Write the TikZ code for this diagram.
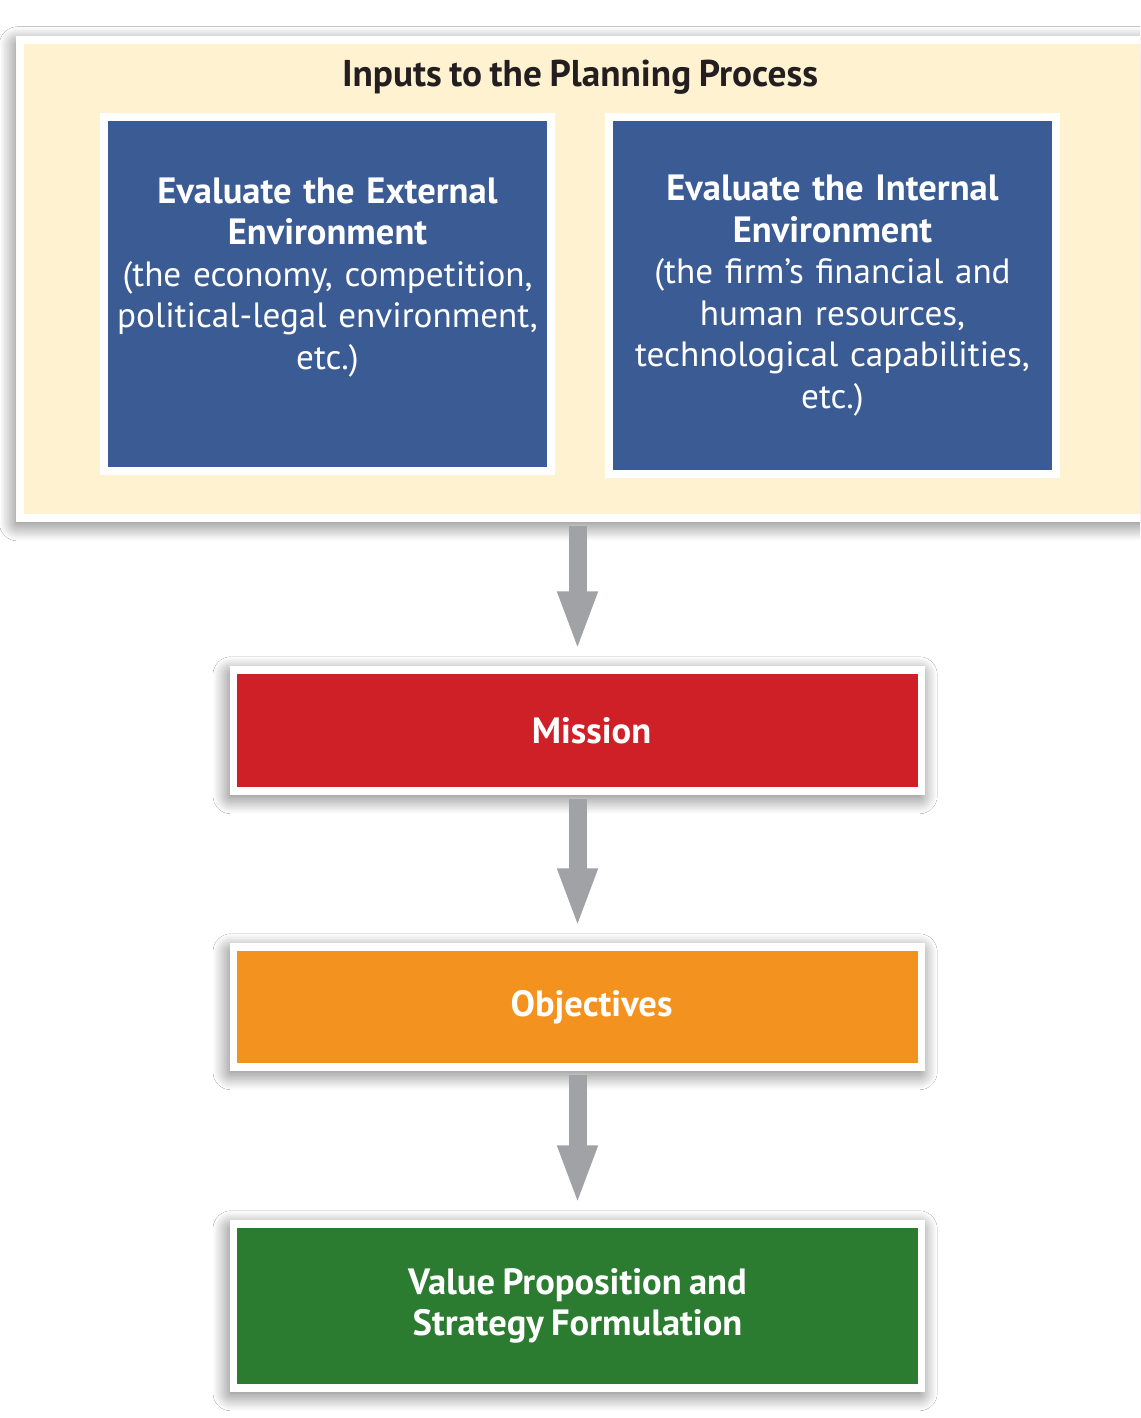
\documentclass[tikz,border=0pt]{standalone}
\usepackage{fontspec}
\setmainfont[WordSpace = 0.8]{PT Sans}
\usetikzlibrary{arrows.meta,shadows.blur}

\definecolor{creamfill}{RGB}{255,242,208}
\definecolor{envblue}{RGB}{59,91,148}
\definecolor{missionred}{RGB}{208,32,39}
\definecolor{objorange}{RGB}{243,146,30}
\definecolor{valgreen}{RGB}{43,123,48}
\definecolor{flowgray}{RGB}{160,162,166}
\definecolor{titleblack}{RGB}{35,31,32}

\tikzset{
    softshadow/.style = {blur shadow = {shadow xshift = -0.06cm, shadow yshift = -0.12cm,
        shadow blur radius = 0.45cm, shadow blur steps = 12, shadow opacity = 65}},
    envbox/.style = {draw = white, line width = 0.2cm, fill = envblue, text = white,
        minimum width = 11.175cm, text width = 10.9cm, align = center, inner sep = 0pt,
        font = \fontsize{25}{29.5}\selectfont},
    stagebox/.style = {draw = white, line width = 0.18cm, softshadow, text = white,
        minimum width = 17.2cm, align = center, inner sep = 0pt,
        font = \bfseries\fontsize{26}{29.5}\selectfont},
    flow/.style = {flowgray, line width = 0.45cm, shorten < = 0.1cm, shorten > = 0.375cm,
        -{Triangle[width = 0.9cm, length = 1.5cm]}}
}

\begin{document}
\begin{tikzpicture}[x = 0.025cm, y = -0.025cm]
    \useasboundingbox (0,0) rectangle (1140,1418);
    \clip (0,0) rectangle (1140,1418);
    \fill[white] (0,0) rectangle (1140,1418);

    % inputs frame
    \node[draw = white, line width = 0.2cm, fill = creamfill, softshadow,
        minimum width = 28.5cm, minimum height = 11.95cm] (frame) at (590,279) {};
    \node[text = titleblack, font = \bfseries\fontsize{26.5}{29.5}\selectfont] (title) at (580,77)
        {Inputs to the Planning Process};

    \node[envbox, minimum height = 8.85cm] (external) at (327.5,294)
        {\textbf{\fontsize{26}{29.5}\selectfont Evaluate the External}\\
         \textbf{\fontsize{26}{29.5}\selectfont Environment}\\ (the economy, competition,\\
         political-legal environment,\\ etc.)\\ ~};
    \node[envbox, minimum height = 8.925cm] (internal) at (832.5,295.5)
        {\textbf{\fontsize{26}{29.5}\selectfont Evaluate the Internal}\\
         \textbf{\fontsize{26}{29.5}\selectfont Environment}\\ (the firm’s financial and\\
         human resources,\\ technological capabilities,\\ etc.)};

    % planning stages
    \node[stagebox, fill = missionred, minimum height = 3.025cm] (mission) at (577.5,730.5)
        {\hspace*{0.7cm}Mission};
    \node[stagebox, fill = objorange, minimum height = 3cm] (objectives) at (577.5,1007)
        {\hspace*{0.7cm}Objectives};
    \node[stagebox, fill = valgreen, minimum height = 4.1cm] (strategy) at (577.5,1306)
        {Value Proposition and\\ Strategy Formulation};

    \draw[flow] (mission.north |- frame.south) -- (mission.north);
    \draw[flow] (mission.south) -- (objectives.north);
    \draw[flow] (objectives.south) -- (strategy.north);
\end{tikzpicture}
\end{document}
